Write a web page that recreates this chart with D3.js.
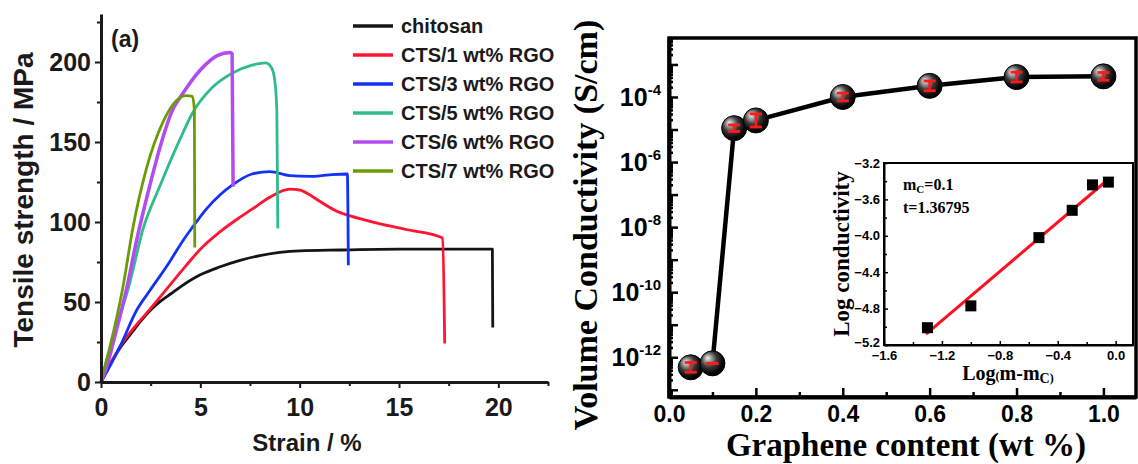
<!DOCTYPE html>
<meta charset="utf-8">
<script src="https://d3js.org/d3.v7.min.js"></script>
<style>
  body { margin: 0; background: #fff; }
  .sans { font-family: "Liberation Sans", Arial, sans-serif; font-weight: bold; }
  .serif { font-family: "Liberation Serif", "Times New Roman", serif; font-weight: bold; }
</style>
<div id="chart"></div>
<script>

// ---- (a) tensile curves, [strain %, stress MPa]
var seriesNames = ["chitosan", "CTS/1 wt% RGO", "CTS/3 wt% RGO", "CTS/5 wt% RGO", "CTS/6 wt% RGO", "CTS/7 wt% RGO"];
var seriesColors = ["#151515", "#ff1433", "#1432f5", "#2fbb8c", "#b34cf0", "#6c9c05"];
var chitosan = [[0,0],[0.5,12],[1,22],[1.5,30],[2,38],[2.5,45],[3,50.5],[3.5,55],[4,59.5],[5,67],[6,72],[7,76],[8,79],[9,81],[10,82],[12,82.5],[15,83],[17,83],[19.7,83],[19.72,34]];
var cts1 = [[0,0],[0.5,12],[1,23],[1.6,33],[2.5,46],[3.5,61],[4.3,73],[5,83],[6,94],[7,103],[7.6,108],[8.5,115.5],[9.5,120.5],[10,120],[10.5,117],[11,113],[12,106],[12.5,104],[14,99],[15.5,95],[17.2,90],[17.3,24]];
var cts3 = [[0,0],[0.45,10],[0.95,22],[1.8,45],[2.45,57],[3.45,75],[4,86],[4.8,100],[5.3,108],[6,117],[6.6,123],[7.6,130],[8.5,131.5],[9.5,129],[10.5,128.5],[11.5,129.5],[12.4,130],[12.45,73]];
var cts5 = [[0,0],[0.3,14],[0.85,37],[1.45,62],[2.1,95],[2.95,122],[3.95,151],[4.6,168],[5.6,184],[6.6,193],[7.6,198],[8.3,199.5],[8.6,196],[8.75,188],[8.85,170],[8.9,96]];
var cts6 = [[0,0],[0.3,10],[0.6,24],[1.3,59],[1.8,89],[2.4,120],[3,148],[3.6,170],[4.1,180],[5,195],[5.85,204],[6.5,206],[6.6,205],[6.65,122]];
var cts7 = [[0,0],[0.2,10],[0.45,22],[1.1,59],[1.6,96],[2.3,134],[3.1,162],[3.8,176],[4.3,179],[4.6,178.5],[4.7,170],[4.72,84]];
var strainTicks = [0, 5, 10, 15, 20];
var strainMinor = [2.5, 7.5, 12.5, 17.5, 22.5];
var stressTicks = [0, 50, 100, 150, 200];
var stressMinor = [25, 75, 125, 175, 225];

// ---- (b) volume conductivity
var content = [0.05, 0.1, 0.15, 0.2, 0.4, 0.6, 0.8, 1.0];
var conductivity = [4.9e-13, 6.5e-13, 1.1e-5, 1.9e-5, 1.0e-4, 2.2e-4, 4.1e-4, 4.3e-4];
var errDecades = [0.15, 0, 0.1, 0.2, 0.12, 0.15, 0.15, 0.12];
var contentTicks = [0, 0.2, 0.4, 0.6, 0.8, 1.0];
var contentMinor = [0.1, 0.3, 0.5, 0.7, 0.9];
var labelExponents = [-12, -10, -8, -6, -4];

// ---- inset: log conductivity vs log(m - mc)
var logDm = [-1.3, -1.0, -0.53, -0.30, -0.16, -0.05];
var logCond = [-5.01, -4.77, -4.02, -3.72, -3.44, -3.41];
var fitX = [-1.31, -0.04];
var fitY = [-5.08, -3.365];
var insetXTicks = [-1.6, -1.2, -0.8, -0.4, 0.0];
var insetXMinor = [-1.4, -1.0, -0.6, -0.2];
var insetYTicks = [-3.2, -3.6, -4.0, -4.4, -4.8, -5.2];
var insetYMinor = [-3.4, -3.8, -4.2, -4.6, -5.0];

var svg = d3.select("#chart").append("svg")
    .attr("width", 1138)
    .attr("height", 464);

// ================= left panel =================
var xL = d3.scaleLinear().domain([0, 22.5]).range([101, 548]);
var yL = d3.scaleLinear().domain([0, 230]).range([382, 14]);
var gL = svg.append("g");

var curves = [chitosan, cts1, cts3, cts5, cts6, cts7];
var line = d3.line()
    .x(function(d) { return xL(d[0]); })
    .y(function(d) { return yL(d[1]); })
    .curve(d3.curveMonotoneX);

gL.selectAll(".curve")
  .data(curves)
  .enter().append("path")
    .attr("class", "curve")
    .attr("d", line)
    .attr("fill", "none")
    .attr("stroke", function(d, i) { return seriesColors[i]; })
    .attr("stroke-width", function(d, i) { return i == 4 ? 3.5 : 2.8; })
    .attr("stroke-linejoin", "round");

// axes
var xAxisL = gL.append("g").attr("class", "sans")
    .attr("transform", "translate(0,382)")
    .call(d3.axisBottom(xL).tickValues(strainTicks).tickSize(6).tickSizeOuter(0).tickPadding(10));
gL.append("g").attr("transform", "translate(0,382)")
    .call(d3.axisBottom(xL).tickValues(strainMinor).tickSize(4).tickFormat(""))
    .select(".domain").remove();
var yAxisL = gL.append("g").attr("class", "sans")
    .attr("transform", "translate(101,0)")
    .call(d3.axisLeft(yL).tickValues(stressTicks).tickSize(6).tickSizeOuter(0).tickPadding(4));
gL.append("g").attr("transform", "translate(101,0)")
    .call(d3.axisLeft(yL).tickValues(stressMinor).tickSize(4).tickFormat(""))
    .select(".domain").remove();

gL.selectAll(".domain").attr("stroke", "#1a1a1a").attr("stroke-width", 3);
gL.selectAll(".tick line").attr("stroke", "#1a1a1a").attr("stroke-width", 2);
gL.selectAll(".tick text").attr("font-size", 25).attr("fill", "#1a1a1a");

gL.append("text").attr("class", "sans")
    .attr("x", 307).attr("y", 451)
    .attr("text-anchor", "middle")
    .attr("font-size", 24).attr("fill", "#1a1a1a")
    .text("Strain / %");

gL.append("text").attr("class", "sans")
    .attr("transform", "translate(33,200) rotate(-90)")
    .attr("text-anchor", "middle")
    .attr("font-size", 28).attr("fill", "#1a1a1a")
    .text("Tensile strength / MPa");

gL.append("text").attr("class", "sans")
    .attr("x", 111).attr("y", 47)
    .attr("font-size", 23).attr("fill", "#1a1a1a")
    .text("(a)");

// legend
var legend = gL.selectAll(".leg")
  .data(seriesNames)
  .enter().append("g")
    .attr("class", "leg")
    .attr("transform", function(d, i) { return "translate(353," + (26 + i * 29) + ")"; });
legend.append("line")
    .attr("x1", 0).attr("x2", 40)
    .attr("stroke", function(d, i) { return seriesColors[i]; })
    .attr("stroke-width", 3.5);
legend.append("text").attr("class", "sans")
    .attr("x", 48).attr("y", 7)
    .attr("font-size", 20).attr("fill", "#1a1a1a")
    .text(function(d) { return d; });

// ================= right panel =================
var xR = d3.scaleLinear().domain([0, 1.075]).range([669, 1136]);
var yR = d3.scaleLog().domain([6e-14, 6.5e-3]).range([397, 38]);
var gR = svg.append("g");

var defs = svg.append("defs");
var grad = defs.append("radialGradient").attr("id", "ball")
    .attr("cx", 0.42).attr("cy", 0.4).attr("r", 0.62)
    .attr("fx", 0.3).attr("fy", 0.28);
grad.append("stop").attr("offset", 0).attr("stop-color", "#f2f2f2");
grad.append("stop").attr("offset", 0.2).attr("stop-color", "#a8a8a8");
grad.append("stop").attr("offset", 0.5).attr("stop-color", "#3a3a3a");
grad.append("stop").attr("offset", 0.8).attr("stop-color", "#0c0c0c");
grad.append("stop").attr("offset", 1).attr("stop-color", "#000");

// frame
gR.append("rect")
    .attr("x", xR.range()[0]).attr("y", yR.range()[1])
    .attr("width", xR.range()[1] - xR.range()[0])
    .attr("height", yR.range()[0] - yR.range()[1])
    .attr("fill", "none").attr("stroke", "#000").attr("stroke-width", 3.5);

var decades = d3.range(-13, -2).map(function(e) { return Math.pow(10, e); });
var minors = [];
d3.range(-14, -2).forEach(function(e) {
  for (var k = 2; k <= 9; k++) {
    var v = k * Math.pow(10, e);
    if (v > yR.domain()[0] && v < yR.domain()[1]) minors.push(v);
  }
});

var xAxisR = gR.append("g").attr("class", "sans")
    .attr("transform", "translate(0," + yR.range()[0] + ")")
    .call(d3.axisBottom(xR).tickValues(contentTicks).tickSize(-9).tickSizeOuter(0).tickPadding(9)
      .tickFormat(d3.format(".1f")));
gR.append("g").attr("transform", "translate(0," + yR.range()[0] + ")")
    .call(d3.axisBottom(xR).tickValues(contentMinor).tickSize(-5).tickFormat(""))
    .select(".domain").remove();
var yAxisR = gR.append("g")
    .attr("transform", "translate(" + xR.range()[0] + ",0)")
    .call(d3.axisLeft(yR).tickValues(decades).tickSize(-9).tickSizeOuter(0).tickFormat(""));
gR.append("g").attr("transform", "translate(" + xR.range()[0] + ",0)")
    .call(d3.axisLeft(yR).tickValues(minors).tickSize(-4).tickFormat(""))
    .select(".domain").remove();

gR.selectAll(".domain").attr("stroke", "#000").attr("stroke-width", 4);
gR.selectAll(".tick line").attr("stroke", "#000").attr("stroke-width", 2.5);
xAxisR.selectAll(".tick text").attr("font-size", 23).attr("fill", "#000");

// y labels 10^n
var yLab = gR.selectAll(".ylab")
  .data(labelExponents)
  .enter().append("text")
    .attr("class", "sans ylab")
    .attr("x", 661)
    .attr("y", function(d) { return yR(Math.pow(10, d)) + 9; })
    .attr("text-anchor", "end")
    .attr("fill", "#000");
yLab.append("tspan").attr("font-size", 25).text("10");
yLab.append("tspan").attr("font-size", 15).attr("dy", -11).text(function(d) { return d; });

gR.append("text").attr("class", "serif")
    .attr("transform", "translate(597,225) rotate(-90)")
    .attr("text-anchor", "middle")
    .attr("font-size", 34).attr("fill", "#000")
    .text("Volume Conductivity (S/cm)");

gR.append("text").attr("class", "serif")
    .attr("x", 906).attr("y", 456)
    .attr("text-anchor", "middle")
    .attr("font-size", 33).attr("fill", "#000")
    .text("Graphene content (wt %)");

// data line + markers
var pts = content.map(function(c, i) { return [c, conductivity[i], errDecades[i]]; });
gR.append("path")
    .datum(pts)
    .attr("d", d3.line()
      .x(function(d) { return xR(d[0]); })
      .y(function(d) { return yR(d[1]); }))
    .attr("fill", "none").attr("stroke", "#000").attr("stroke-width", 4.5);

var mk = gR.selectAll(".mk")
  .data(pts)
  .enter().append("g")
    .attr("class", "mk");
mk.append("circle")
    .attr("cx", function(d) { return xR(d[0]); })
    .attr("cy", function(d) { return yR(d[1]); })
    .attr("r", 12.5)
    .attr("fill", "url(#ball)")
    .attr("stroke", "#000").attr("stroke-width", 1);
function errLo(d) { return yR(d[1] / Math.pow(10, d[2])); }
function errHi(d) { return yR(d[1] * Math.pow(10, d[2])); }
mk.append("line")
    .attr("x1", function(d) { return xR(d[0]); })
    .attr("x2", function(d) { return xR(d[0]); })
    .attr("y1", errLo).attr("y2", errHi)
    .attr("stroke", "#ff1a1a").attr("stroke-width", 2.5);
[errLo, errHi].forEach(function(f) {
  mk.append("line")
      .attr("x1", function(d) { return xR(d[0]) - 6; })
      .attr("x2", function(d) { return xR(d[0]) + 6; })
      .attr("y1", f).attr("y2", f)
      .attr("stroke", "#ff1a1a").attr("stroke-width", 2.8);
});

// ================= inset =================
var xI = d3.scaleLinear().domain([-1.6, 0.12]).range([884, 1133]);
var yI = d3.scaleLinear().domain([-5.2, -3.2]).range([345, 163]);
var gI = svg.append("g");

gI.append("rect")
    .attr("x", 884).attr("y", 163)
    .attr("width", 1133 - 884).attr("height", 345 - 163)
    .attr("fill", "#fff").attr("stroke", "#000").attr("stroke-width", 2);

var xAxisI = gI.append("g").attr("class", "sans")
    .attr("transform", "translate(0,345)")
    .call(d3.axisBottom(xI).tickValues(insetXTicks).tickSize(-4).tickSizeOuter(0).tickPadding(6)
      .tickFormat(d3.format(".1f")));
gI.append("g").attr("transform", "translate(0,345)")
    .call(d3.axisBottom(xI).tickValues(insetXMinor).tickSize(-3).tickFormat(""))
    .select(".domain").remove();
var yAxisI = gI.append("g").attr("class", "sans")
    .attr("transform", "translate(884,0)")
    .call(d3.axisLeft(yI).tickValues(insetYTicks).tickSize(-4).tickSizeOuter(0).tickPadding(4)
      .tickFormat(d3.format(".1f")));
gI.append("g").attr("transform", "translate(884,0)")
    .call(d3.axisLeft(yI).tickValues(insetYMinor).tickSize(-3).tickFormat(""))
    .select(".domain").remove();
gI.selectAll(".domain").attr("stroke", "#000").attr("stroke-width", 2);
gI.selectAll(".tick line").attr("stroke", "#000").attr("stroke-width", 1.5);
gI.selectAll(".tick text").attr("font-size", 13).attr("fill", "#000");
// lift the lowest y label a little so it clears the first x label
yAxisI.selectAll(".tick text").filter(function(d) { return d == -5.2; }).attr("dy", "0.12em");

gI.append("line")
    .attr("x1", xI(fitX[0])).attr("y1", yI(fitY[0]))
    .attr("x2", xI(fitX[1])).attr("y2", yI(fitY[1]))
    .attr("stroke", "#ff1020").attr("stroke-width", 3);

gI.selectAll(".sq")
  .data(logDm)
  .enter().append("rect")
    .attr("class", "sq")
    .attr("x", function(d) { return xI(d) - 5.5; })
    .attr("y", function(d, i) { return yI(logCond[i]) - 5.5; })
    .attr("width", 11).attr("height", 11)
    .attr("fill", "#000");

var ann1 = gI.append("text").attr("class", "serif")
    .attr("x", 903).attr("y", 190).attr("font-size", 16);
ann1.append("tspan").text("m");
ann1.append("tspan").attr("font-size", 11).attr("dy", 3).text("C");
ann1.append("tspan").attr("dy", -3).text("=0.1");
gI.append("text").attr("class", "serif")
    .attr("x", 903).attr("y", 213).attr("font-size", 16)
    .text("t=1.36795");

var xl = gI.append("text").attr("class", "serif")
    .attr("x", 1008).attr("y", 380)
    .attr("text-anchor", "middle").attr("font-size", 20);
xl.append("tspan").text("Log");
xl.append("tspan").attr("font-size", 12).text("(");
xl.append("tspan").text("m-m");
xl.append("tspan").attr("font-size", 14).attr("dy", 3).text("C");
xl.append("tspan").attr("font-size", 12).attr("dy", -1).text(")");

gI.append("text").attr("class", "serif")
    .attr("transform", "translate(849,254) rotate(-90)")
    .attr("text-anchor", "middle").attr("font-size", 23)
    .text("Log conductivity");

</script>
